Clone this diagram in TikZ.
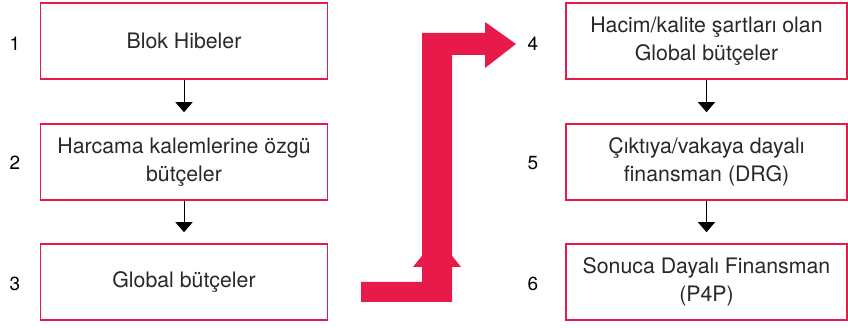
\documentclass[tikz,border=0pt]{standalone}
\usepackage{fontspec}
\setmainfont{TeX Gyre Heros}
\usetikzlibrary{arrows.meta}
\definecolor{crim}{RGB}{232,26,74}
\definecolor{txt}{RGB}{40,40,40}
\begin{document}
\begin{tikzpicture}[x=1pt,y=-1pt,
  box/.style={draw=crim,line width=1.6pt,minimum width=287pt,minimum height=76pt,inner sep=0pt,align=center,font=\fontsize{21.3}{28}\selectfont,text=txt},
  rbox/.style={box,minimum width=281pt},
  num/.style={font=\fontsize{19}{22}\selectfont,text=black},
  flow/.style={-{Triangle[length=10pt,width=17pt]},line width=1pt,shorten >=11pt}]
\useasboundingbox (0,0) rectangle (848,328);
\node[box] (b1) at (184,41) {Blok Hibeler};
\node[box] (b2) at (184,162) {Harcama kalemlerine özgü\\bütçeler};
\node[box] (b3) at (184,282) {Global bütçeler};
\node[rbox] (b4) at (706.5,41) {Hacim/kalite şartları olan\\Global bütçeler};
\node[rbox] (b5) at (706.5,162) {Çıktıya/vakaya dayalı\\finansman (DRG)};
\node[rbox] (b6) at (706.5,282) {Sonuca Dayalı Finansman\\(P4P)};
\node[num] (n1) at (15,44) {1};
\node[num] (n2) at (15,163) {2};
\node[num] (n3) at (15,284) {3};
\node[num] (n4) at (533,44) {4};
\node[num] (n5) at (533,163) {5};
\node[num] (n6) at (533,284) {6};
\draw[flow] (b1) -- (b2);
\draw[flow] (b2) -- (b3);
\draw[flow] (b4) -- (b5);
\draw[flow] (b5) -- (b6);
\fill[crim] (413,267) -- (461,267) -- (437,237) -- cycle;
\fill[crim] (361,282) -- (422,282) -- (422,33) -- (485,33) -- (485,22) -- (516,44) -- (485,68) -- (485,55) -- (452,55) -- (452,302) -- (361,302) -- cycle;
\end{tikzpicture}
\end{document}
